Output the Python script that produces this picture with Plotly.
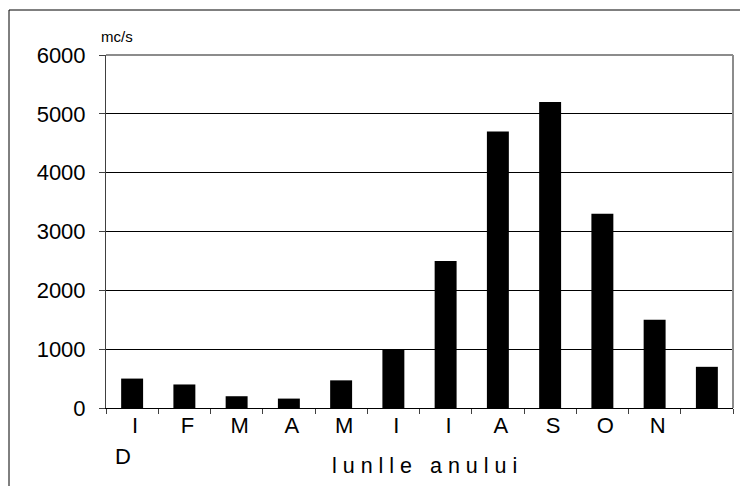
"""Debitul mediu lunar - grafic cu bare."""

import plotly.graph_objects as go

# date
luni = ["ianuarie", "februarie", "martie", "aprilie", "mai", "iunie",
        "iulie", "august", "septembrie", "octombrie", "noiembrie", "decembrie"]
etichete = ["I", "F", "M", "A", "M", "I", "I", "A", "S", "O", "N", ""]
debite = [500, 400, 200, 160, 470, 1000, 2500, 4700, 5200, 3300, 1500, 700]
valori_y = [0, 1000, 2000, 3000, 4000, 5000, 6000]

FONT = "Liberation Sans, Arial, sans-serif"

# margini ale zonei de desen (pixeli)
L, R, T, B = 106, 7, 55, 78
W, H = 740, 486
pw = W - L - R
ph = H - T - B


def px_x(x):
    return (x - L) / pw


def px_y(y):
    return (H - B - y) / ph


fig = go.Figure(
    go.Bar(
        x=luni,
        y=debite,
        marker=dict(color="black", line=dict(width=0)),
        hoverinfo="x+y",
    )
)

fig.update_layout(
    width=W,
    height=H,
    margin=dict(l=L, r=R, t=T, b=B),
    paper_bgcolor="white",
    plot_bgcolor="white",
    showlegend=False,
    bargap=0.58,
    font=dict(family=FONT, size=22, color="black"),
    xaxis=dict(
        type="category",
        tickmode="array",
        tickvals=luni,
        ticktext=etichete,
        tickson="boundaries",
        ticks="outside",
        ticklen=5,
        tickcolor="#404040",
        ticklabelshift=3,
        ticklabelstandoff=-2,
        showgrid=False,
        showline=True,
        linecolor="black",
        linewidth=1,
        tickfont=dict(family=FONT, size=22, color="black"),
    ),
    yaxis=dict(
        range=[0, 6000],
        tickmode="array",
        tickvals=valori_y,
        ticks="outside",
        ticklen=6,
        tickcolor="#404040",
        ticklabelstandoff=9,
        showgrid=True,
        gridcolor="black",
        gridwidth=1,
        zeroline=False,
        showline=True,
        linecolor="#404040",
        linewidth=1,
        tickfont=dict(family=FONT, size=22, color="black"),
    ),
    shapes=[
        # chenarul gri al zonei de desen
        dict(type="line", xref="paper", yref="paper", x0=0, x1=1, y0=1, y1=1,
             line=dict(color="#8c8c8c", width=2)),
        dict(type="line", xref="paper", yref="paper", x0=1, x1=1, y0=0, y1=1,
             line=dict(color="#8c8c8c", width=2)),
        # chenarul exterior
        dict(type="line", xref="paper", yref="paper",
             x0=px_x(9), x1=px_x(760), y0=px_y(10), y1=px_y(10),
             line=dict(color="black", width=1)),
        dict(type="line", xref="paper", yref="paper",
             x0=px_x(9), x1=px_x(9), y0=px_y(10), y1=px_y(500),
             line=dict(color="black", width=1)),
    ],
    annotations=[
        dict(text="mc/s", xref="paper", yref="paper", x=px_x(99), y=px_y(36),
             xanchor="left", yanchor="middle", showarrow=False,
             font=dict(family=FONT, size=15, color="black")),
        dict(text="D", xref="x", yref="paper", x=luni[0], xshift=-9,
             y=px_y(456), xanchor="center", yanchor="middle", showarrow=False,
             font=dict(family=FONT, size=22, color="black")),
        dict(text="l\u00a0u\u00a0n\u00a0l\u00a0l\u00a0e\u00a0\u00a0\u00a0"
                  "a\u00a0n\u00a0u\u00a0l\u00a0u\u00a0i",
             xref="paper", yref="paper", x=px_x(424), y=px_y(466),
             xanchor="center", yanchor="middle", showarrow=False,
             font=dict(family=FONT, size=21.5, color="black")),
    ],
)

# fara marginea implicita a paginii
fig.write_html("out.html", config={"displayModeBar": False},
               post_script="document.body.style.margin='0';")
